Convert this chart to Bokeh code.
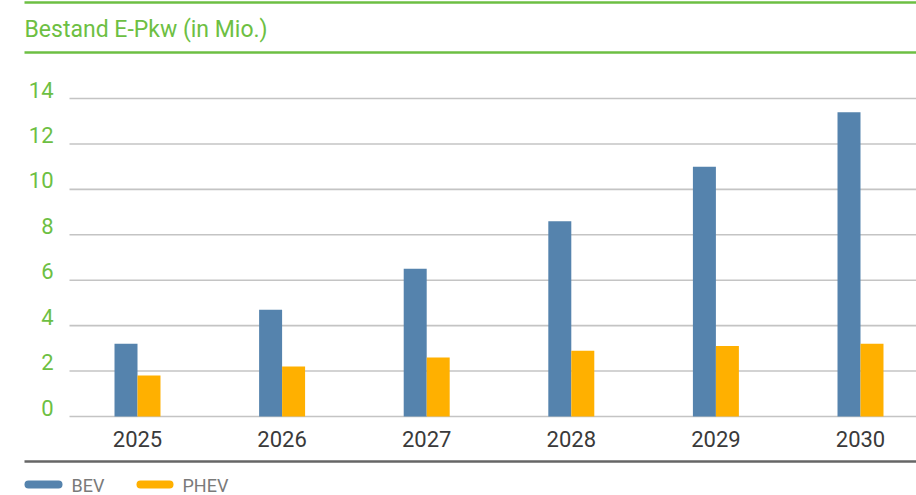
from bokeh.plotting import figure
from bokeh.models import ColumnDataSource, LinearAxis, FixedTicker, Range1d
from bokeh.transform import dodge
from bokeh.core.properties import value
from bokeh.embed import file_html
from bokeh.resources import INLINE

# ---- data ----
years = ["2025", "2026", "2027", "2028", "2029", "2030"]
bev = [3.2, 4.7, 6.5, 8.6, 11.0, 13.4]
phev = [1.8, 2.2, 2.6, 2.9, 3.1, 3.2]
y_ticks = [0, 2, 4, 6, 8, 10, 12, 14]
series_names = ["BEV", "PHEV"]
title_text = "Bestand E-Pkw (in Mio.)"

# ---- styling ----
FONT = "Roboto"
GREEN = "#6dbf43"
BEV_C = "#5583ad"
PHEV_C = "#ffb000"

W, H = 916, 495
CX0, SX = 137.0, 144.6      # pixel centre of first category, category pitch
Y0PX, KY = 416.0, 22.714    # pixel row of value 0, pixels per unit


def dx(px):
    return (px - CX0) / SX


def dy(py):
    return (Y0PX - py) / KY


p = figure(width=W, height=H, output_backend="svg", toolbar_location=None,
           x_range=Range1d(dx(0), dx(W)), y_range=Range1d(dy(H), dy(0)),
           min_border=0, x_axis_type=None, y_axis_type=None, tools="")
p.outline_line_color = None
p.background_fill_color = "white"

xs = list(range(len(years)))
src = ColumnDataSource(dict(x=xs, bev=bev, phev=phev))

# grid lines
p.segment(x0=dx(69), x1=dx(W), y0=y_ticks, y1=y_ticks,
          line_color="#c4c4c4", line_width=1.6)

# bars
BW = 0.159
p.vbar(x=dodge("x", -BW / 2, range=p.x_range), top="bev", bottom=0, width=BW,
       source=src, fill_color=BEV_C, line_color=None)
p.vbar(x=dodge("x", BW / 2, range=p.x_range), top="phev", bottom=0, width=BW,
       source=src, fill_color=PHEV_C, line_color=None)

# x axis
xaxis = LinearAxis(fixed_location=0, ticker=FixedTicker(ticks=xs),
                   major_label_overrides={i: y for i, y in zip(xs, years)},
                   axis_line_color=None, major_tick_line_color=None,
                   minor_tick_line_color=None, major_label_standoff=8,
                   major_label_text_font=FONT, major_label_text_font_size="22px",
                   major_label_text_color="#3a3a3a")
p.add_layout(xaxis, "below")

# y tick labels (sit just above their grid lines)
p.text(x=dx(53), y=y_ticks, text=[str(t) for t in y_ticks], text_font=value(FONT),
       text_font_size="22px", text_color=GREEN, text_align="right",
       text_baseline="middle", y_offset=-9)

# title and rules
p.text(x=[dx(24)], y=[dy(29)], text=[title_text], text_font=value(FONT),
       text_font_size="23px", text_color=GREEN, text_baseline="middle")
p.segment(x0=[dx(24), dx(24)], x1=[dx(W), dx(W)], y0=[dy(2), dy(52)], y1=[dy(2), dy(52)],
          line_color=GREEN, line_width=2.5)
p.segment(x0=[dx(24)], x1=[dx(W)], y0=[dy(461)], y1=[dy(461)],
          line_color="#666666", line_width=2.5)

# legend
p.segment(x0=[dx(28), dx(140)], x1=[dx(58), dx(169)], y0=[dy(484), dy(484)],
          y1=[dy(484), dy(484)], line_color=[BEV_C, PHEV_C], line_width=8,
          line_cap="round")
p.text(x=[dx(71), dx(182)], y=[dy(485), dy(485)], text=series_names,
       text_font=value(FONT), text_font_size="18px", text_color="#7a7a7a",
       text_baseline="middle")

open("out.html", "w").write(file_html(p, INLINE))
